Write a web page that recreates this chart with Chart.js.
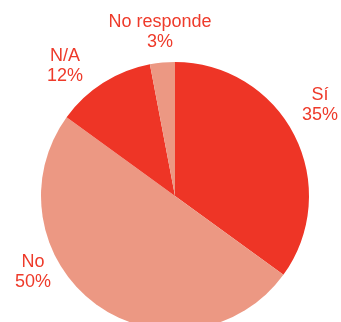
<!DOCTYPE html>
<html>
<head>
<meta charset="utf-8">
<script src="https://cdn.jsdelivr.net/npm/chart.js@4/dist/chart.umd.min.js"></script>
<style>
  html, body { margin: 0; padding: 0; background: #fff; overflow: hidden; }
  #wrap { width: 341px; height: 322px; overflow: hidden; }
</style>
</head>
<body>
<div id="wrap"><canvas id="pieChart" width="341" height="340"></canvas></div>
<script>
const categories = ['Sí', 'No', 'N/A', 'No responde'];
const values = [35, 50, 12, 3];
const sliceColors = ['#EE3526', '#EC9883', '#EE3526', '#EC9883'];

// where each label sits (centre x, first baseline y)
const labelSpots = [
  { x: 320, y: 100 },
  { x: 33, y: 267 },
  { x: 65, y: 61 },
  { x: 160, y: 27 }
];

const outsideLabels = {
  id: 'outsideLabels',
  afterDraw(chart) {
    const ctx = chart.ctx;
    const ds = chart.data.datasets[0];
    ctx.save();
    ctx.font = '18px "Liberation Sans", Arial, sans-serif';
    ctx.fillStyle = '#EE3A2A';
    ctx.textAlign = 'center';
    ctx.textBaseline = 'alphabetic';
    chart.data.labels.forEach((lab, i) => {
      const p = labelSpots[i];
      ctx.fillText(lab, p.x, p.y);
      ctx.fillText(ds.data[i] + '%', p.x, p.y + 20);
    });
    ctx.restore();
  }
};

new Chart(document.getElementById('pieChart'), {
  type: 'pie',
  data: {
    labels: categories,
    datasets: [{
      data: values,
      backgroundColor: sliceColors,
      borderWidth: 0
    }]
  },
  options: {
    responsive: false,
    animation: false,
    rotation: 0,
    layout: { padding: { left: 41, right: 32, top: 62, bottom: 10 } },
    plugins: {
      legend: { display: false },
      tooltip: { enabled: false }
    }
  },
  plugins: [outsideLabels]
});
</script>
</body>
</html>
